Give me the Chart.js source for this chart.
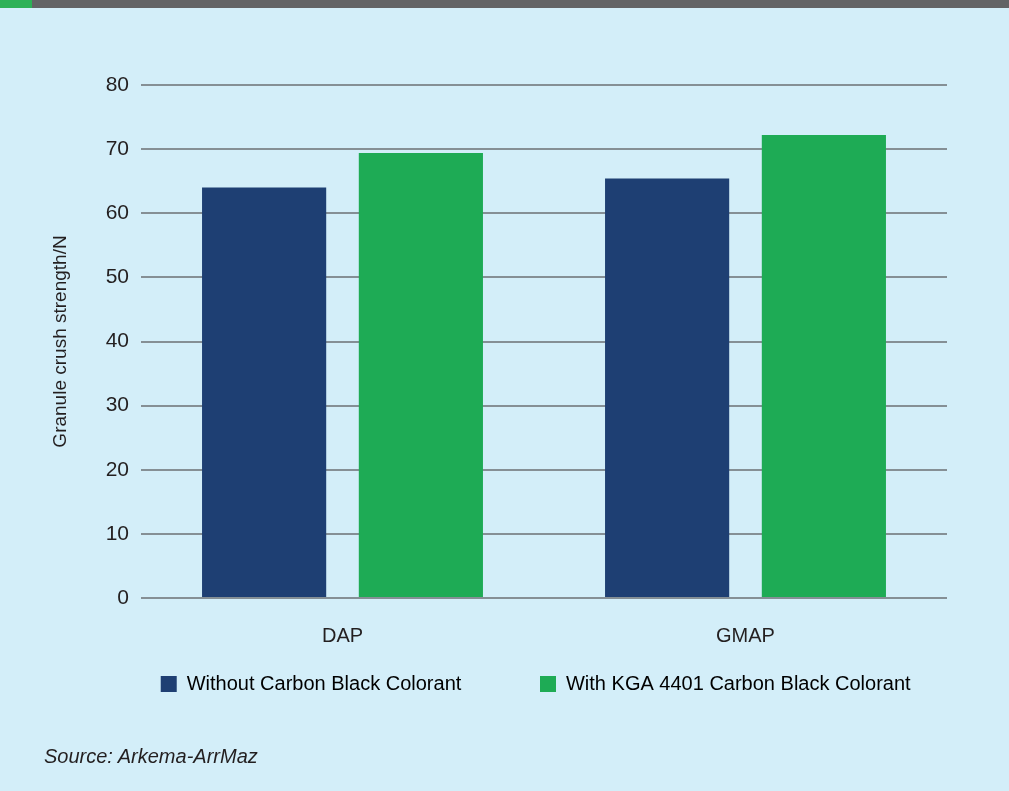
<!DOCTYPE html>
<html>
<head>
<meta charset="utf-8">
<script src="https://cdn.jsdelivr.net/npm/chart.js@4/dist/chart.umd.min.js"></script>
<style>
  html, body { margin: 0; padding: 0; }
  body { width: 1009px; height: 791px; background: #d3eef9; position: relative; overflow: hidden; }
  .strip { position: absolute; left: 0; top: 0; width: 1009px; height: 8px; background: #636466; }
  .strip .accent { position: absolute; left: 0; top: 0; width: 32px; height: 8px; background: #2cb157; }
  #wrap { position: absolute; left: 0; top: 0; width: 1009px; height: 791px; }
  .source { position: absolute; left: 44px; top: 745px; font: italic 20px 'Liberation Sans', Arial, sans-serif; color: #231f20; }
</style>
</head>
<body>
<div class="strip"><div class="accent"></div></div>
<div id="wrap"><canvas id="chart"></canvas></div>
<div class="source">Source: Arkema-ArrMaz</div>
<script>
// Granule crush strength by fertiliser grade
const categories = ['DAP', 'GMAP'];
const withoutColorant = [64.0, 65.4];
const withColorant = [69.4, 72.2];
const seriesNames = ['Without Carbon Black Colorant', 'With KGA 4401 Carbon Black Colorant'];
const yTicks = [0, 10, 20, 30, 40, 50, 60, 70, 80];
const yTitle = 'Granule crush strength/N';

const FONT = "'Liberation Sans', Arial, sans-serif";
const INK = '#231f20';
const GRID = '#858f95';

// legend entries are padded so the two keys sit further apart on one row
const legendGap = [' '.repeat(12), ' '.repeat(3)];

new Chart(document.getElementById('chart'), {
  type: 'bar',
  data: {
    labels: categories,
    datasets: [
      { label: seriesNames[0], data: withoutColorant, backgroundColor: '#1e3f73' },
      { label: seriesNames[1], data: withColorant, backgroundColor: '#1eab55' }
    ]
  },
  options: {
    responsive: true,
    maintainAspectRatio: false,
    animation: false,
    categoryPercentage: 0.778,
    barPercentage: 0.792,
    layout: { padding: { left: 40, top: 85, right: 62, bottom: 87 } },
    scales: {
      x: {
        grid: { display: false },
        border: { display: false },
        ticks: { color: INK, font: { family: FONT, size: 20 }, padding: 18 },
        afterFit: s => { s.height = 64; }
      },
      y: {
        min: yTicks[0],
        max: yTicks[yTicks.length - 1],
        afterBuildTicks: s => { s.ticks = yTicks.map(v => ({ value: v })); },
        grid: { color: GRID, lineWidth: 2, drawTicks: false },
        border: { display: false },
        ticks: { color: INK, font: { family: FONT, size: 21 }, padding: 12 },
        title: {
          display: true,
          text: yTitle,
          color: INK,
          font: { family: FONT, size: 19 },
          padding: { top: 9, bottom: 0 }
        },
        afterFit: s => { s.width = 101; }
      }
    },
    plugins: {
      tooltip: { enabled: false },
      legend: {
        position: 'bottom',
        fullSize: false,
        labels: {
          color: INK,
          font: { family: FONT, size: 20 },
          boxWidth: 16,
          boxHeight: 16,
          padding: 12,
          generateLabels: chart => chart.data.datasets.map((ds, i) => ({
            text: ds.label + legendGap[i],
            fillStyle: ds.backgroundColor,
            strokeStyle: ds.backgroundColor,
            lineWidth: 0,
            hidden: false,
            datasetIndex: i
          }))
        }
      }
    }
  }
});
</script>
</body>
</html>
